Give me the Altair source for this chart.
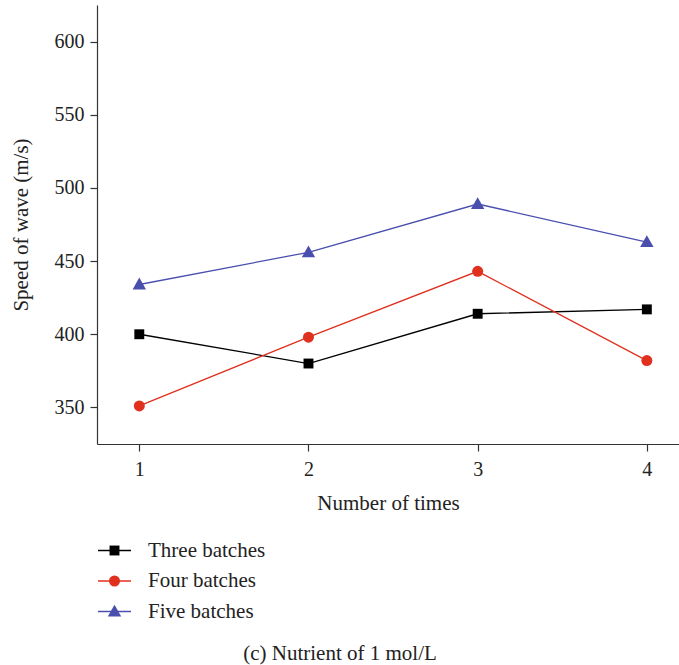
import altair as alt
import pandas as pd

times = [1, 2, 3, 4]
three = [400, 380, 414, 417]
four = [351, 398, 443, 382]
five = [434, 456, 489, 463]
series_names = ["Three batches", "Four batches", "Five batches"]
colors = ["#000000", "#e0301e", "#4a4fae"]
shapes = ["M-0.9,-0.9H0.9V0.9H-0.9Z", "circle", "M0,-1.25L1.22,0.92L-1.22,0.92Z"]

rows = []
for name, vals in zip(series_names, [three, four, five]):
    for t, v in zip(times, vals):
        rows.append({"times": t, "speed": v, "series": name})
df = pd.DataFrame(rows)

FONT = "Liberation Serif"
TXT = 21

x = alt.X("times:Q", title="Number of times",
          scale=alt.Scale(domain=[0.75, 4.19], nice=False, zero=False),
          axis=alt.Axis(values=times, format="d", grid=False, tickSize=7,
                        labelPadding=8, titlePadding=13))
y = alt.Y("speed:Q", title="Speed of wave (m/s)",
          scale=alt.Scale(domain=[325, 625], nice=False, zero=False),
          axis=alt.Axis(values=[350, 400, 450, 500, 550, 600], grid=False,
                        tickSize=7, labelPadding=6, titlePadding=23))

line_legend = alt.Legend(orient="none", legendX=7, legendY=535, title=None,
                         symbolType="M-3,0H3", symbolSize=121, symbolStrokeWidth=1.3,
                         labelOpacity=0, labelOffset=23, rowPadding=8.5,
                         labelFontSize=TXT, labelFont=FONT, padding=0)
pt_legend = alt.Legend(orient="none", legendX=7, legendY=535, title=None,
                       symbolSize=121, symbolStrokeWidth=0, labelOffset=23,
                       rowPadding=8.5, labelFontSize=TXT, labelFont=FONT,
                       labelColor="#222222", padding=0)

sort = series_names
lines = alt.Chart(df).mark_line(strokeWidth=1.3).encode(
    x=x, y=y,
    color=alt.Color("series:N", sort=sort,
                    scale=alt.Scale(domain=series_names, range=colors),
                    legend=line_legend),
    detail="series:N",
)
points = alt.Chart(df).mark_point(filled=True, opacity=1, size=121).encode(
    x=x, y=y,
    fill=alt.Fill("series:N", sort=sort,
                  scale=alt.Scale(domain=series_names, range=colors),
                  legend=pt_legend),
    shape=alt.Shape("series:N", sort=sort,
                    scale=alt.Scale(domain=series_names, range=shapes),
                    legend=pt_legend),
)

chart = alt.layer(lines, points).resolve_legend(color="independent").properties(
    width=582, height=439,
    padding={"left": 97, "top": 5, "right": 0, "bottom": 221},
    autosize=alt.AutoSizeParams(type="none"),
    title=alt.TitleParams("(c) Nutrient of 1 mol/L", orient="bottom", anchor="middle",
                          dx=-48, offset=21, font=FONT, fontSize=TXT,
                          fontWeight="normal", color="#222222"),
).configure_view(stroke=None).configure_axis(
    domainColor="#333333", tickColor="#333333", domainWidth=1.2, tickWidth=1.2,
    labelFont=FONT, titleFont=FONT, labelFontSize=20, titleFontSize=TXT,
    labelColor="#222222", titleColor="#222222", titleFontWeight="normal",
)

chart.save("out.html", embed_options={"renderer": "svg", "actions": False})
